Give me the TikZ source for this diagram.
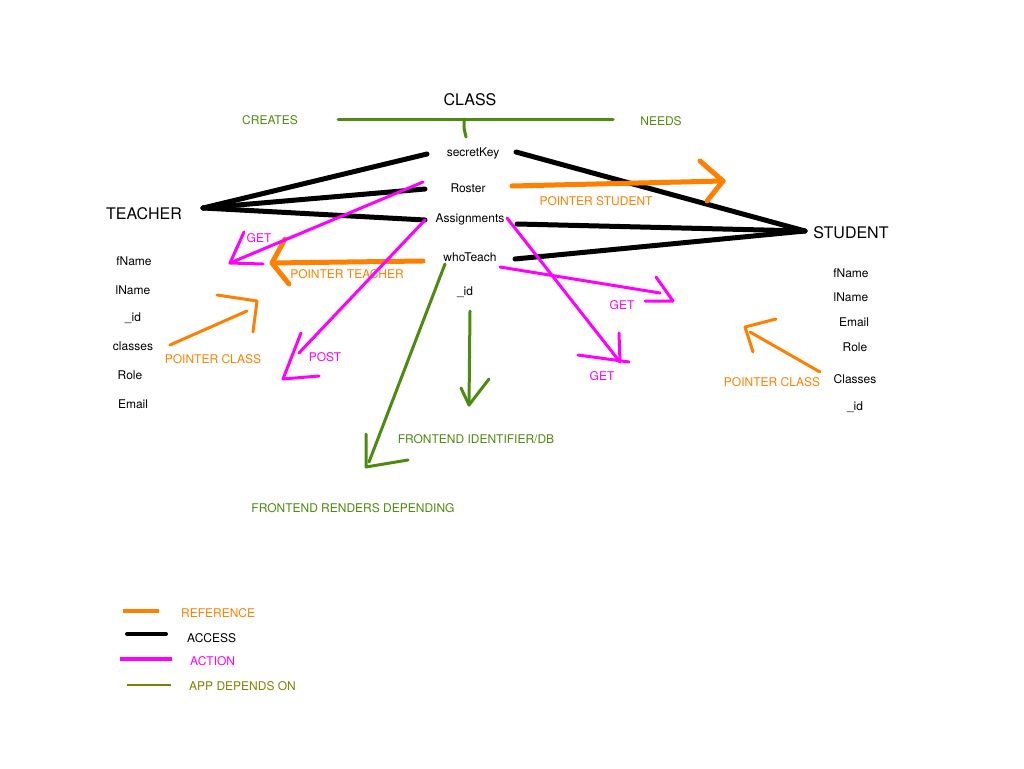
\documentclass[tikz,border=0pt]{standalone}
\usepackage{fontspec}
\setmainfont{TeX Gyre Heros}
\definecolor{refcol}{RGB}{255,128,0}
\definecolor{actcol}{RGB}{255,0,255}
\definecolor{depcol}{RGB}{77,138,16}
\definecolor{appcol}{RGB}{128,128,0}
\begin{document}
\begin{tikzpicture}[x=1pt,y=-1pt,field/.style={font=\fontsize{12}{14}\selectfont,inner
        sep=0pt},entity/.style={font=\fontsize{16}{18}\selectfont,inner sep=0pt}]
    \tikzstyle{label}=[field,text=#1]
    \tikzstyle{access}=[black,line width=5pt,line cap=round]
    \tikzstyle{reference}=[refcol,line width=5pt,line cap=round,line join=round]
    \tikzstyle{action}=[actcol,line width=3pt,line cap=round,line join=round]
    \tikzstyle{depends}=[depcol,line width=3pt,line cap=round,line join=round]

    \useasboundingbox (0,0) rectangle (1024,768);

    % class
    \node[entity] (class) at (470,100) {CLASS};
    \node[label=depcol] (creates) at (270,120) {CREATES};
    \node[label=depcol] (needs) at (661,121) {NEEDS};
    \node[field] (key) at (473,153) {secretKey};
    \node[field] (roster) at (468,188) {Roster};
    \node[field] (asg) at (470,219) {Assignments};
    \node[field] (who) at (470,257) {whoTeach};
    \node[field] (cid) at (465,292) {\_id};

    % teacher
    \node[entity] (teacher) at (144,214) {TEACHER};
    \node[field] (tfname) at (134,261) {fName};
    \node[field] (tlname) at (133,290) {lName};
    \node[field] (tid) at (133,318) {\_id};
    \node[field] (tclasses) at (133,346) {classes};
    \node[field] (trole) at (130,375) {Role};
    \node[field] (temail) at (133,404) {Email};

    % student
    \node[entity] (student) at (851,233) {STUDENT};
    \node[field] (sfname) at (851,273) {fName};
    \node[field] (slname) at (851,297) {lName};
    \node[field] (semail) at (854,322) {Email};
    \node[field] (srole) at (855,347) {Role};
    \node[field] (sclasses) at (855,379) {Classes};
    \node[field] (sid) at (855,407) {\_id};

    % labels
    \node[label=refcol] (ptrstu) at (596,201) {POINTER STUDENT};
    \node[label=refcol] (ptrtch) at (347,274) {POINTER TEACHER};
    \node[label=refcol] (ptrcls) at (213,359) {POINTER CLASS};
    \node[label=refcol] (ptrcls2) at (772,382) {POINTER CLASS};
    \node[label=actcol] (get1) at (259,238) {GET};
    \node[label=actcol] (post) at (325,357) {POST};
    \node[label=actcol] (get2) at (622,305) {GET};
    \node[label=actcol] (get3) at (602,376) {GET};
    \node[label=depcol] (feid) at (476,439) {FRONTEND IDENTIFIER/DB};
    \node[label=depcol] (ferender) at (353,508) {FRONTEND RENDERS DEPENDING};

    % end points of the strokes
    \coordinate (tch) at (203,208);
    \coordinate (stu) at (805,231);
    \coordinate (keyL) at (427,154);
    \coordinate (keyR) at (516,152);
    \coordinate (rosL) at (425,189);
    \coordinate (rosR) at (512,186);
    \coordinate (asgL) at (425,220);
    \coordinate (asgR) at (517,224);
    \coordinate (whoL) at (423,261);
    \coordinate (whoR) at (515,259);

    % access
    \draw[access] (tch) -- (keyL);
    \draw[access] (tch) -- (rosL);
    \draw[access] (tch) -- (asgL);
    \draw[access] (keyR) -- (stu);
    \draw[access] (asgR) -- (stu);
    \draw[access] (whoR) -- (stu);

    % class needs / creates
    \coordinate (crL) at (338,119);
    \coordinate (crR) at (613,119);
    \draw[depends] (crL) -- (crR);
    \draw[depends] (464,119) -- (464,128) -- (466,137);

    % references
    \coordinate (stutip) at (723,181);
    \draw[reference] (rosR) -- (stutip);
    \draw[reference] ([shift={(-23,-20)}]stutip) -- (stutip) -- ++(-16,20);
    \coordinate (tchtip) at (272,263);
    \draw[reference] (whoL) -- (tchtip);
    \draw[reference] ([shift={(13,-24)}]tchtip) -- (tchtip) -- ++(17,21);
    \coordinate (clsend) at (170,345);
    \coordinate (clstip) at (257,301);
    \draw[reference,line width=3pt] (clsend) -- (247,311);
    \draw[reference,line width=3pt] ([shift={(-40,-6)}]clstip) -- (clstip) -- ++(-4,31);
    \coordinate (scls) at (820,372);
    \coordinate (sclstip) at (745,327);
    \draw[reference,line width=3pt] (scls) -- (750,332);
    \draw[reference,line width=3pt] ([shift={(31,-8)}]sclstip) -- (sclstip) -- ++(8,25);

    % actions
    \coordinate (getstart) at (423,182);
    \coordinate (gettip) at (230,263);
    \draw[action] (getstart) -- (gettip);
    \draw[action] ([shift={(14,-31)}]gettip) -- (gettip) -- ++(33,1);
    \coordinate (posttip) at (283,379);
    \draw[action] (asgL) -- (299,353);
    \draw[action] ([shift={(18,-46)}]posttip) -- (posttip) -- ++(36,-3);
    \coordinate (whostart) at (500,267);
    \coordinate (getrtip) at (673,301);
    \draw[action] (whostart) -- (660,293);
    \draw[action] ([shift={(-17,-24)}]getrtip) -- (getrtip) -- ++(-28,0);
    \coordinate (asgstart) at (507,218);
    \coordinate (getdtip) at (620,362);
    \draw[action] (asgstart) -- (getdtip);
    \draw[action] ([shift={(-1,-29)}]getdtip) -- (getdtip);
    \draw[action] ([shift={(-42,-7)}]getdtip) -- ++(51,7);

    % frontend
    \coordinate (whobot) at (445,264);
    \coordinate (rendtip) at (366,467);
    \draw[depends] (whobot) -- (369,462);
    \draw[depends] ([shift={(0,-33)}]rendtip) -- (rendtip) -- ++(42,-7);
    \coordinate (idtop) at (470,311);
    \coordinate (idtip) at (469,405);
    \draw[depends] (idtop) -- (idtip);
    \draw[depends] ([shift={(-8,-17)}]idtip) -- (idtip) -- ++(20,-26);

    % legend
    \coordinate (lg1) at (123,611);
    \coordinate (lg2) at (127,634);
    \coordinate (lg3) at (120,659);
    \coordinate (lg4) at (127,685);
    \draw[reference,line width=4pt,line cap=butt] (lg1) -- ++(36,0);
    \draw[access,line width=4pt] (lg2) -- ++(39,0);
    \draw[action,line width=4pt,line cap=butt] (lg3) -- ++(52,0);
    \draw[appcol,line width=2pt] (lg4) -- ++(44,0);
    \node[label=refcol,anchor=west] (lgref) at (181,613) {REFERENCE};
    \node[label=black,anchor=west] (lgacc) at (187,638) {ACCESS};
    \node[label=actcol,anchor=west] (lgact) at (190,661) {ACTION};
    \node[label=appcol,anchor=west] (lgapp) at (189,686) {APP DEPENDS ON};

  \end{tikzpicture}
\end{document}
